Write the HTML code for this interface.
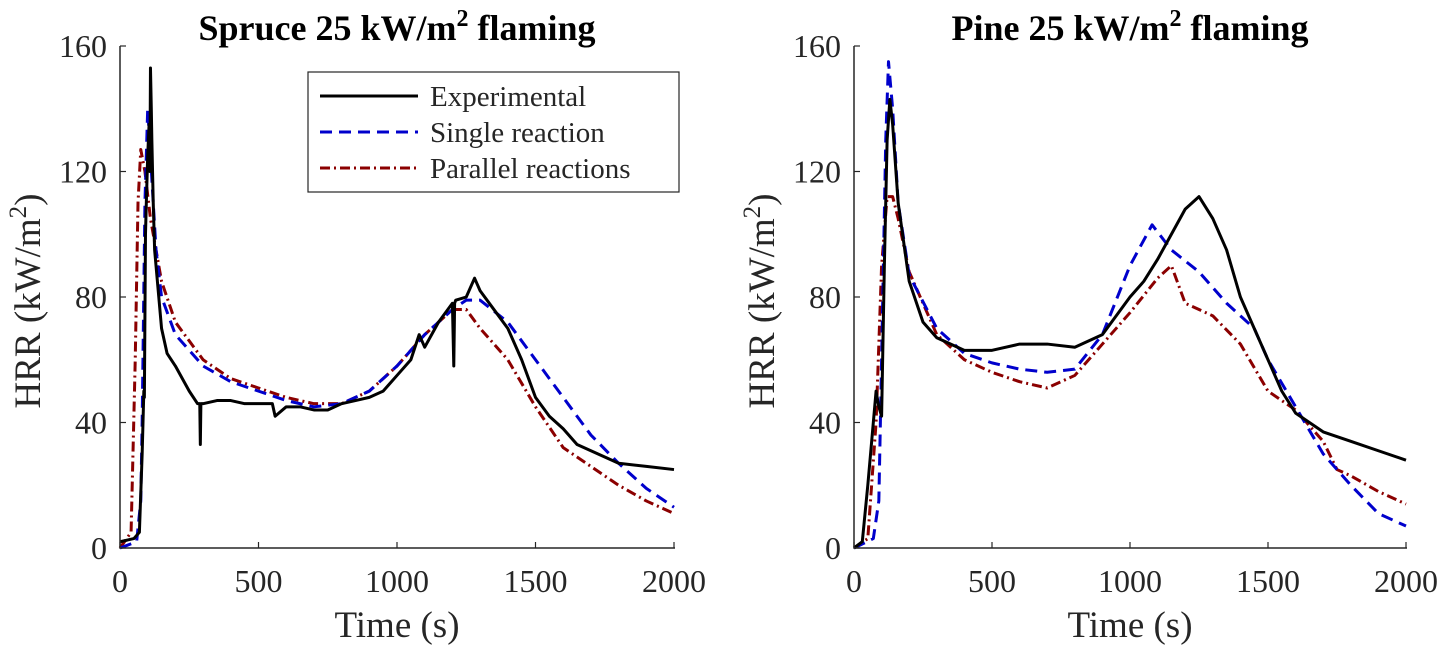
<!DOCTYPE html>
<html><head><meta charset="utf-8"><style>
body{margin:0;background:#fff}
svg{display:block;font-family:"Liberation Serif",serif}
</style></head><body>
<svg id="c" width="1439" height="646" viewBox="0 0 1439 646"></svg>
<script>
const tickX=[0,500,1000,1500,2000];
const tickY=[0,40,80,120,160];
const spruceExpT=[0,50,70,80,86,88,92,95,100,105,108,110,113,115,120,125,140,150,170,200,250,280,288,290,292,300,350,400,450,500,550,560,600,650,700,750,800,850,900,950,1000,1050,1080,1100,1150,1200,1205,1208,1212,1250,1280,1290,1300,1350,1400,1450,1500,1550,1600,1650,1700,1800,1900,2000];
const spruceExpV=[2,3,5,30,50,48,100,110,125,135,120,153,140,130,110,95,80,70,62,58,50,46,46,33,46,46,47,47,46,46,46,42,45,45,44,44,46,47,48,50,55,60,68,64,72,78,58,78,79,80,86,84,82,76,70,60,48,42,38,33,31,27,26,25];
const spruceSingleT=[0,60,75,80,90,100,110,130,150,200,300,400,500,600,700,800,900,1000,1100,1200,1250,1300,1400,1500,1600,1700,1800,1900,2000];
const spruceSingleV=[0,2,15,40,110,140,125,95,80,68,58,53,50,47,45,46,50,58,68,76,79,79,72,60,48,36,27,19,13];
const sprucePar2T=[0,40,55,65,75,90,110,150,200,300,400,500,600,700,800,900,1000,1100,1200,1250,1300,1400,1500,1600,1700,1800,1900,2000];
const sprucePar2V=[0,5,60,110,127,120,105,85,72,60,54,51,48,46,46,50,58,68,76,76,70,60,45,32,26,20,15,11];
const pineExpT=[0,30,50,70,80,90,100,110,120,130,140,160,200,250,300,400,500,600,700,800,900,1000,1050,1100,1150,1200,1250,1300,1350,1400,1450,1500,1550,1600,1700,1800,1900,2000];
const pineExpV=[0,2,20,40,50,45,42,90,130,143,135,110,85,72,67,63,63,65,65,64,68,80,85,92,100,108,112,105,95,80,70,60,50,43,37,34,31,28];
const pineSingleT=[0,70,90,100,115,125,140,160,200,300,400,500,600,700,800,900,1000,1080,1150,1250,1350,1450,1500,1600,1700,1800,1900,2000];
const pineSingleV=[0,3,15,60,130,155,140,110,87,70,62,59,57,56,57,68,90,103,95,88,78,70,60,45,30,20,11,7];
const pineParT=[0,50,80,100,120,140,160,200,300,400,500,600,700,800,900,1000,1100,1150,1200,1300,1400,1500,1600,1700,1750,1800,1900,2000];
const pineParV=[0,3,40,90,112,112,105,88,68,60,56,53,51,55,65,75,86,90,78,74,65,50,44,34,25,23,18,14];

const svg=document.getElementById('c');const NS='http://www.w3.org/2000/svg';
function mk(tag,attrs,parent){const e=document.createElementNS(NS,tag);for(const k in attrs)e.setAttribute(k,attrs[k]);(parent||svg).appendChild(e);return e;}
function panel(x0,x1,title,id,series){
  const y0=548,y1=46;
  const sx=t=>x0+(t/2000)*(x1-x0), sy=v=>y0-(v/160)*(y0-y1);
  const g=mk('g',{});
  
  
  series.forEach(s=>{
    const p=mk('polyline',{points:s.t.map((t,i)=>sx(t)+','+sy(s.v[i])).join(' '),fill:'none',stroke:s.c,'stroke-width':s.w,'stroke-dasharray':s.d,'stroke-linejoin':'round'},g);
    
    
  });
  const ax=mk('path',{d:`M${x0},${y1}V${y0}H${x1+1}`,fill:'none',stroke:'#262626','stroke-width':1.5},g);
  
  
  tickX.forEach(t=>{mk('line',{x1:sx(t),x2:sx(t),y1:y0,y2:y0-6,stroke:'#262626','stroke-width':1.2},g);
    const tx=mk('text',{x:sx(t),y:y0+44,'text-anchor':'middle','font-size':32,fill:'#262626'},g);tx.textContent=t;
    
    });
  tickY.forEach(v=>{mk('line',{x1:x0,x2:x0+6,y1:sy(v),y2:sy(v),stroke:'#262626','stroke-width':1.2},g);
    const tx=mk('text',{x:x0-13,y:sy(v)+11,'text-anchor':'end','font-size':32,fill:'#262626'},g);tx.textContent=v;
    
    });
  const xl=mk('text',{x:(x0+x1)/2,y:637,'text-anchor':'middle','font-size':37,fill:'#262626'},g);xl.textContent='Time (s)';
  
  
  const yl=mk('text',{transform:`translate(${x0-80},${(y0+y1)/2+4}) rotate(-90)`,'text-anchor':'middle','font-size':37,fill:'#262626'},g);
  yl.innerHTML='HRR (kW/m<tspan dy="-14" font-size="25">2</tspan><tspan dy="14">)</tspan>';
  
  
  const tt=mk('text',{x:(x0+x1)/2,y:40,'text-anchor':'middle','font-size':36,'font-weight':'bold'},g);
  tt.innerHTML=title+' 25 kW/m<tspan dy="-14" font-size="24">2</tspan><tspan dy="14"> flaming</tspan>';
  
  
}
panel(120,674,'Spruce','spruce',[
 {n:'parallel-line',t:sprucePar2T,v:sprucePar2V,c:'#8b0000',w:3,d:'10 4 2 4'},
 {n:'single-line',t:spruceSingleT,v:spruceSingleV,c:'#0000cc',w:3,d:'12 7'},
 {n:'experimental-line',t:spruceExpT,v:spruceExpV,c:'#000',w:3,d:'none'}]);
panel(854,1406,'Pine','pine',[
 {n:'parallel-line',t:pineParT,v:pineParV,c:'#8b0000',w:3,d:'10 4 2 4'},
 {n:'single-line',t:pineSingleT,v:pineSingleV,c:'#0000cc',w:3,d:'12 7'},
 {n:'experimental-line',t:pineExpT,v:pineExpV,c:'#000',w:3,d:'none'}]);
const lg=mk('g',{});


mk('rect',{x:308,y:72,width:371,height:120,fill:'#fff',stroke:'#262626','stroke-width':1.2},lg);
[['Experimental','#000','none'],['Single reaction','#0000cc','12 7'],['Parallel reactions','#8b0000','10 4 2 4']].forEach((e,i)=>{
  const y=96+i*36;
  const gi=mk('g',{},lg);
  
  
  mk('line',{x1:320,x2:418,y1:y,y2:y,stroke:e[1],'stroke-width':3,'stroke-dasharray':e[2]},gi);
  const t=mk('text',{x:430,y:y+10,'font-size':29,fill:'#262626'},gi);t.textContent=e[0];
});
</script>
</body></html>
